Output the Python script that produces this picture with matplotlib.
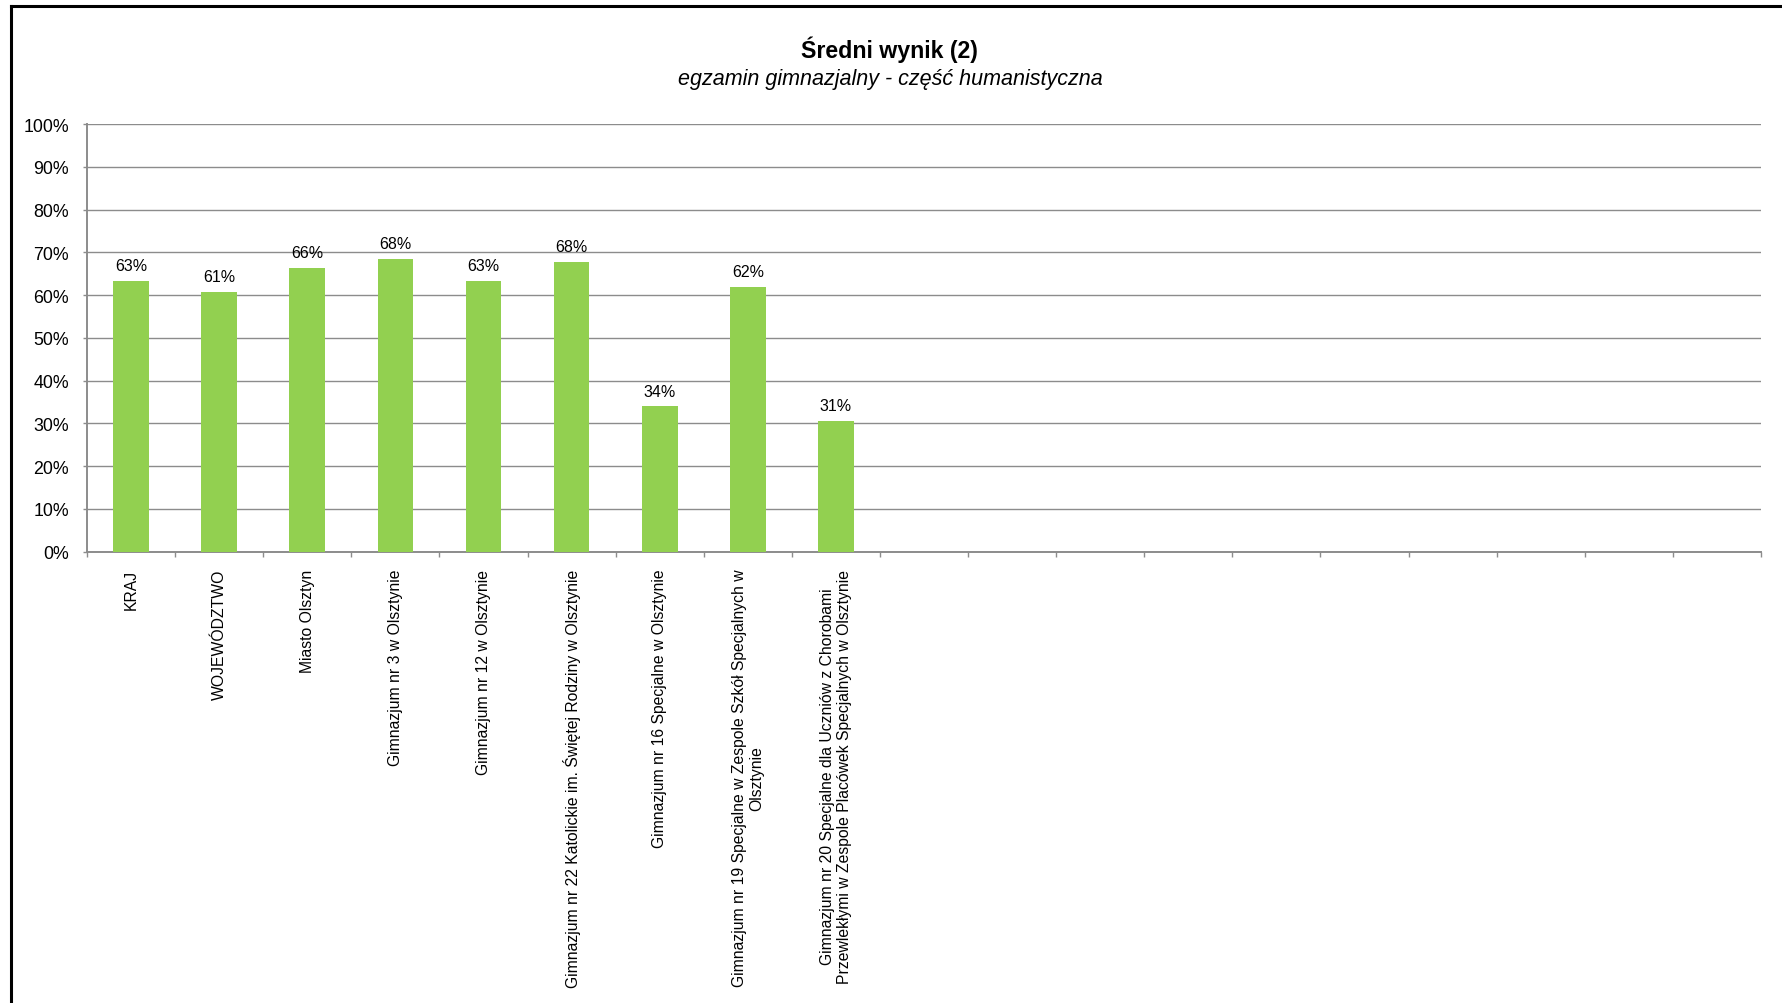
import matplotlib
matplotlib.use("Agg")
import matplotlib.pyplot as plt
from matplotlib.lines import Line2D
import numpy as np

# ---- data ----
categories = [
    "KRAJ",
    "WOJEWÓDZTWO",
    "Miasto Olsztyn",
    "Gimnazjum nr 3 w Olsztynie",
    "Gimnazjum nr 12 w Olsztynie",
    "Gimnazjum nr 22 Katolickie im. Świętej Rodziny w Olsztynie",
    "Gimnazjum nr 16 Specjalne w Olsztynie",
    "Gimnazjum nr 19 Specjalne w Zespole Szkół Specjalnych w\nOlsztynie",
    "Gimnazjum nr 20 Specjalne dla Uczniów z Chorobami\nPrzewlekłymi w Zespole Placówek Specjalnych w Olsztynie",
]
values = [63.3, 60.7, 66.4, 68.4, 63.4, 67.8, 34.0, 61.9, 30.6]
value_labels = ["63%", "61%", "66%", "68%", "63%", "68%", "34%", "62%", "31%"]
n_slots = 19  # category slots on the axis (remaining ones are empty)
y_ticks = [0, 10, 20, 30, 40, 50, 60, 70, 80, 90, 100]
y_tick_labels = [f"{t}%" for t in y_ticks]
title = "Średni wynik (2)"
subtitle = "egzamin gimnazjalny - część humanistyczna"

# ---- style ----
plt.rcParams["font.family"] = ["Liberation Sans", "DejaVu Sans"]
W, H = 1783, 1004
fig = plt.figure(figsize=(W / 100, H / 100), dpi=100)
fig.patch.set_facecolor("white")

grey = "#8c8c8c"
bar_color = "#92D050"

left, right = 87 / W, 1761 / W
bottom, top = 1 - 552.7 / H, 1 - 125 / H
ax = fig.add_axes([left, bottom, right - left, top - bottom])

x = np.arange(len(categories))
ax.bar(x, values, width=0.405, color=bar_color, zorder=3)

for xi, v, lbl in zip(x, values, value_labels):
    ax.annotate(lbl, (xi, v), xytext=(0, 5.6), textcoords="offset points",
                ha="center", va="bottom", fontsize=11.5, color="black")

ax.set_xlim(-0.5, n_slots - 0.5)
ax.set_ylim(0, 100)

ax.set_yticks(y_ticks)
ax.set_yticklabels(y_tick_labels)
ax.yaxis.grid(True, color=grey, lw=1.0, zorder=0)
ax.set_axisbelow(True)

for s in ["top", "right"]:
    ax.spines[s].set_visible(False)
for s in ["left", "bottom"]:
    ax.spines[s].set_color(grey)
    ax.spines[s].set_linewidth(1.4)

ax.tick_params(axis="y", length=3.2, color=grey, width=1.0, pad=9.6,
               labelsize=12.8, labelcolor="black")

ax.set_xticks(x)
ax.set_xticklabels(categories, rotation=90, ha="center", va="top",
                   multialignment="center", fontsize=11.3)
ax.set_xticks(np.arange(-0.5, n_slots), minor=True)
ax.tick_params(axis="x", which="major", length=0, pad=12.3)
ax.tick_params(axis="x", which="minor", length=3.5, color=grey, width=1.0)

fig.text(889 / W, 1 - 58 / H, title, ha="center", va="baseline",
         fontsize=16.7, fontweight="bold")
fig.text(890 / W, 1 - 84.5 / H, subtitle, ha="center", va="baseline",
         fontsize=15.5, fontstyle="italic")

# chart frame (cut off at right and bottom in the reference)
fx = 10.5 / W
fy = 1 - 6.5 / H
fig.add_artist(Line2D([fx, fx], [-0.05, fy], transform=fig.transFigure,
                      color="black", lw=2.2, solid_capstyle="projecting"))
fig.add_artist(Line2D([fx, 1.05], [fy, fy], transform=fig.transFigure,
                      color="black", lw=2.2, solid_capstyle="projecting"))

fig.savefig("out.png", dpi=100, facecolor="white")
